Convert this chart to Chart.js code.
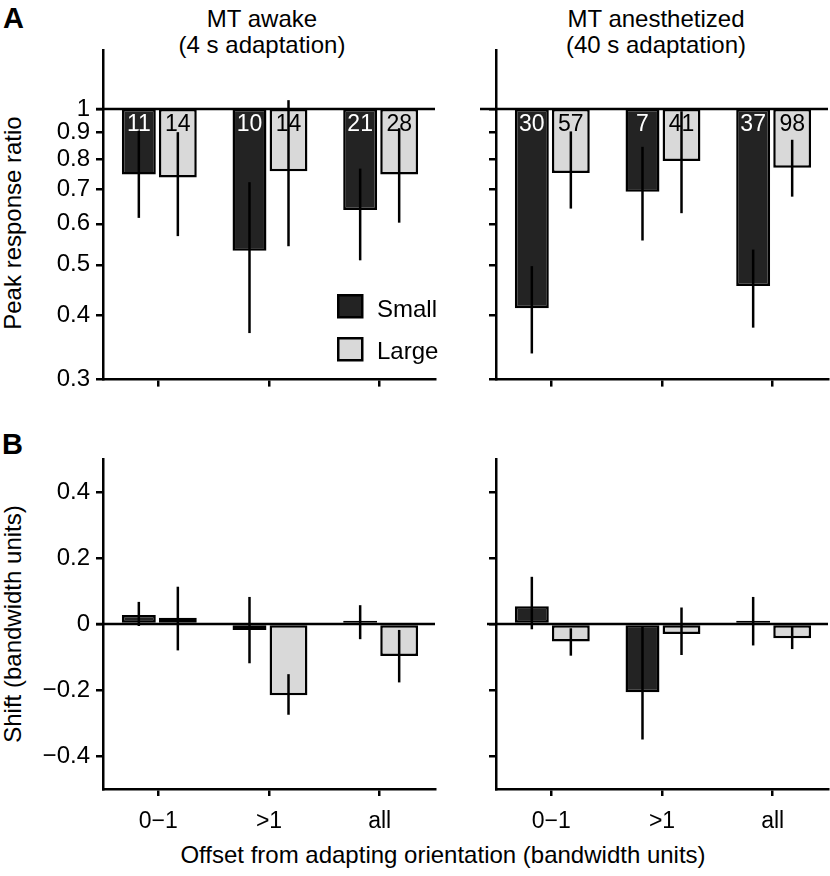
<!DOCTYPE html>
<html>
<head>
<meta charset="utf-8">
<script src="https://cdn.jsdelivr.net/npm/chart.js@4.4.1/dist/chart.umd.min.js"></script>
<style>
  html, body { margin: 0; padding: 0; background: #fff; }
  body { width: 830px; height: 876px; position: relative; overflow: hidden;
         font-family: "Liberation Sans", Arial, sans-serif; color: #000; }
  .txt { position: absolute; white-space: nowrap; line-height: 1; }
  .ctr { transform: translateX(-50%); }
  .rot { transform: translate(-50%, -50%) rotate(-90deg); }
  canvas { position: absolute; }
</style>
</head>
<body>
<div class="txt" style="left:3px;top:4px;font-size:29px;font-weight:bold;">A</div>
<div class="txt" style="left:2px;top:430px;font-size:29px;font-weight:bold;">B</div>

<div class="txt ctr" style="left:262px;top:7px;font-size:24px;">MT awake</div>
<div class="txt ctr" style="left:262px;top:33px;font-size:24px;">(4 s adaptation)</div>
<div class="txt ctr" style="left:656px;top:7px;font-size:24px;">MT anesthetized</div>
<div class="txt ctr" style="left:656px;top:33px;font-size:24px;">(40 s adaptation)</div>

<div class="txt rot" style="left:13px;top:223px;font-size:24px;">Peak response ratio</div>
<div class="txt rot" style="left:13px;top:624px;font-size:24px;">Shift (bandwidth units)</div>
<div class="txt ctr" style="left:443px;top:843px;font-size:24px;">Offset from adapting orientation (bandwidth units)</div>

<canvas id="ratioAwake" width="440" height="400" style="left:0;top:0;"></canvas>
<canvas id="ratioAnest" width="410" height="400" style="left:420px;top:0;"></canvas>
<canvas id="shiftAwake" width="440" height="456" style="left:0;top:420px;"></canvas>
<canvas id="shiftAnest" width="410" height="456" style="left:420px;top:420px;"></canvas>

<script>
    var categories = ['0\u22121', '>1', 'all'];
    var ratioTicks = [0.3, 0.4, 0.5, 0.6, 0.7, 0.8, 0.9, 1];
    var shiftTicks = [-0.4, -0.2, 0, 0.2, 0.4];

    // A, MT awake: peak response ratio (bars hang from 1)
    var awakeRatioSmall = [0.747, 0.532, 0.638];
    var awakeRatioSmallLo = [0.616, 0.369, 0.510];
    var awakeRatioSmallHi = [0.908, 0.722, 0.767];
    var awakeRatioLarge = [0.737, 0.758, 0.747];
    var awakeRatioLargeLo = [0.568, 0.543, 0.603];
    var awakeRatioLargeHi = [0.902, 1.04, 0.918];
    var awakeCountSmall = [11, 10, 21];
    var awakeCountLarge = [14, 14, 28];

    // A, MT anesthetized
    var anestRatioSmall = [0.412, 0.692, 0.455];
    var anestRatioSmallLo = [0.337, 0.557, 0.378];
    var anestRatioSmallHi = [0.497, 0.845, 0.535];
    var anestRatioLarge = [0.752, 0.793, 0.770];
    var anestRatioLargeLo = [0.642, 0.629, 0.677];
    var anestRatioLargeHi = [0.905, 0.99, 0.872];
    var anestCountSmall = [30, 7, 37];
    var anestCountLarge = [57, 41, 98];

    // B, MT awake: shift
    var awakeShiftSmall = [0.027, -0.018, 0.01];
    var awakeShiftSmallLo = [-0.006, -0.119, -0.046];
    var awakeShiftSmallHi = [0.067, 0.082, 0.057];
    var awakeShiftLarge = [0.019, -0.216, -0.097];
    var awakeShiftLargeLo = [-0.080, -0.275, -0.177];
    var awakeShiftLargeHi = [0.113, -0.152, -0.018];

    // B, MT anesthetized
    var anestShiftSmall = [0.054, -0.207, 0.01];
    var anestShiftSmallLo = [-0.016, -0.350, -0.065];
    var anestShiftSmallHi = [0.143, -0.008, 0.082];
    var anestShiftLarge = [-0.053, -0.030, -0.043];
    var anestShiftLargeLo = [-0.096, -0.094, -0.076];
    var anestShiftLargeHi = [-0.013, 0.050, -0.008];

    var FONT = '"Liberation Sans", Arial, sans-serif';
    var SMALL_FILL = '#232323';
    var LARGE_FILL = '#d9d9d9';

    // reference line, n labels, error bars, legend
    var panelExtras = {
        id: 'panelExtras',
        afterDatasetsDraw: function (chart, args, opt) {
            var ctx = chart.ctx;
            var area = chart.chartArea;
            var yScale = chart.scales.y;
            var yRef = yScale.getPixelForValue(opt.refValue);

            ctx.save();
            ctx.strokeStyle = '#000';
            ctx.lineWidth = 2.5;
            ctx.beginPath();
            ctx.moveTo(area.left - opt.refExtend, yRef);
            ctx.lineTo(area.right, yRef);
            ctx.stroke();

            ctx.font = '23px ' + FONT;
            ctx.textAlign = 'center';
            ctx.textBaseline = 'alphabetic';
            chart.data.datasets.forEach(function (ds, di) {
                if (!ds.counts) return;
                ctx.fillStyle = ds.countColor;
                chart.getDatasetMeta(di).data.forEach(function (bar, i) {
                    ctx.fillText(String(ds.counts[i]), bar.x, yRef + 22);
                });
            });

            chart.data.datasets.forEach(function (ds, di) {
                chart.getDatasetMeta(di).data.forEach(function (bar, i) {
                    ctx.beginPath();
                    ctx.moveTo(bar.x, yScale.getPixelForValue(ds.errLo[i]));
                    ctx.lineTo(bar.x, yScale.getPixelForValue(ds.errHi[i]));
                    ctx.stroke();
                });
            });

            if (opt.legend) {
                ctx.font = '24px ' + FONT;
                ctx.textAlign = 'left';
                chart.data.datasets.forEach(function (ds, di) {
                    var bx = area.left + 235.25, by = area.top + 245.25 + di * 43;
                    ctx.fillStyle = ds.backgroundColor;
                    ctx.fillRect(bx, by, 24, 22);
                    ctx.strokeRect(bx, by, 24, 22);
                    ctx.fillStyle = '#000';
                    ctx.fillText(ds.label, area.left + 274, area.top + 267 + di * 42);
                });
            }
            ctx.restore();
        }
    };

    function makePanel(id, p) {
        var isRatio = p.kind === 'ratio';
        var datasets = [
            {
                label: 'Small',
                data: isRatio ? p.small.map(function (v) { return [v, 1]; }) : p.small,
                errLo: p.smallLo, errHi: p.smallHi,
                counts: p.countSmall, countColor: '#fff',
                backgroundColor: SMALL_FILL,
                barPercentage: 0.87
            },
            {
                label: 'Large',
                data: isRatio ? p.large.map(function (v) { return [v, 1]; }) : p.large,
                errLo: p.largeLo, errHi: p.largeHi,
                counts: p.countLarge, countColor: '#000',
                backgroundColor: LARGE_FILL,
                barPercentage: 0.97
            }
        ];
        datasets.forEach(function (ds) {
            ds.borderColor = '#000';
            ds.borderWidth = 2.5;
            ds.borderSkipped = false;
            ds.categoryPercentage = 0.705;
        });

        var axisGrid = { drawOnChartArea: false, drawTicks: true, tickLength: 7, lineWidth: 2.5, color: '#000', offset: false };
        var axisBorder = { display: true, color: '#000', width: 2.5 };

        var yScale = isRatio ? {
            type: 'logarithmic', min: 0.3, max: 1.3,
            afterBuildTicks: function (s) { s.ticks = ratioTicks.map(function (v) { return { value: v }; }); },
            ticks: { callback: function (v) { return p.yLabels ? String(v) : ''; } }
        } : {
            type: 'linear', min: -0.5, max: 0.5,
            afterBuildTicks: function (s) { s.ticks = shiftTicks.map(function (v) { return { value: v }; }); },
            ticks: { callback: function (v) { return p.yLabels ? (v === 0 ? '0' : v.toFixed(1).replace('-', '\u2212')) : ''; } }
        };
        yScale.grid = axisGrid;
        yScale.border = axisBorder;
        yScale.ticks.color = '#000';
        yScale.ticks.padding = 6;
        yScale.ticks.font = { family: FONT, size: 24 };
        yScale.afterFit = function (s) { s.width = p.yWidth; };

        return new Chart(document.getElementById(id), {
            type: 'bar',
            data: { labels: categories, datasets: datasets },
            options: {
                responsive: false,
                animation: false,
                devicePixelRatio: 1,
                layout: { padding: { top: p.padTop, right: p.padRight, left: 0, bottom: 0 } },
                plugins: {
                    legend: { display: false },
                    tooltip: { enabled: false },
                    panelExtras: { refValue: isRatio ? 1 : 0, refExtend: p.refExtend, legend: !!p.legend }
                },
                scales: {
                    x: {
                        grid: axisGrid,
                        border: axisBorder,
                        ticks: {
                            display: true, color: '#000', padding: 12, autoSkip: false, maxRotation: 0,
                            font: { family: FONT, size: 23 },
                            callback: function (v) { return p.xLabels ? categories[v] : ''; }
                        },
                        afterFit: function (s) { s.height = p.xHeight; }
                    },
                    y: yScale
                }
            },
            plugins: [panelExtras]
        });
    }

    makePanel('ratioAwake', {
        kind: 'ratio', yLabels: true, xLabels: false, legend: true,
        small: awakeRatioSmall, smallLo: awakeRatioSmallLo, smallHi: awakeRatioSmallHi,
        large: awakeRatioLarge, largeLo: awakeRatioLargeLo, largeHi: awakeRatioLargeHi,
        countSmall: awakeCountSmall, countLarge: awakeCountLarge,
        yWidth: 103, xHeight: 18, padTop: 50, padRight: 5, refExtend: 7
    });
    makePanel('ratioAnest', {
        kind: 'ratio', yLabels: false, xLabels: false,
        small: anestRatioSmall, smallLo: anestRatioSmallLo, smallHi: anestRatioSmallHi,
        large: anestRatioLarge, largeLo: anestRatioLargeLo, largeHi: anestRatioLargeHi,
        countSmall: anestCountSmall, countLarge: anestCountLarge,
        yWidth: 76, xHeight: 18, padTop: 50, padRight: 2, refExtend: 16
    });
    makePanel('shiftAwake', {
        kind: 'shift', yLabels: true, xLabels: true,
        small: awakeShiftSmall, smallLo: awakeShiftSmallLo, smallHi: awakeShiftSmallHi,
        large: awakeShiftLarge, largeLo: awakeShiftLargeLo, largeHi: awakeShiftLargeHi,
        yWidth: 103, xHeight: 87, padTop: 39, padRight: 5, refExtend: 7
    });
    makePanel('shiftAnest', {
        kind: 'shift', yLabels: false, xLabels: true,
        small: anestShiftSmall, smallLo: anestShiftSmallLo, smallHi: anestShiftSmallHi,
        large: anestShiftLarge, largeLo: anestShiftLargeLo, largeHi: anestShiftLargeHi,
        yWidth: 76, xHeight: 87, padTop: 39, padRight: 2, refExtend: 9
    });
</script>
</body>
</html>
